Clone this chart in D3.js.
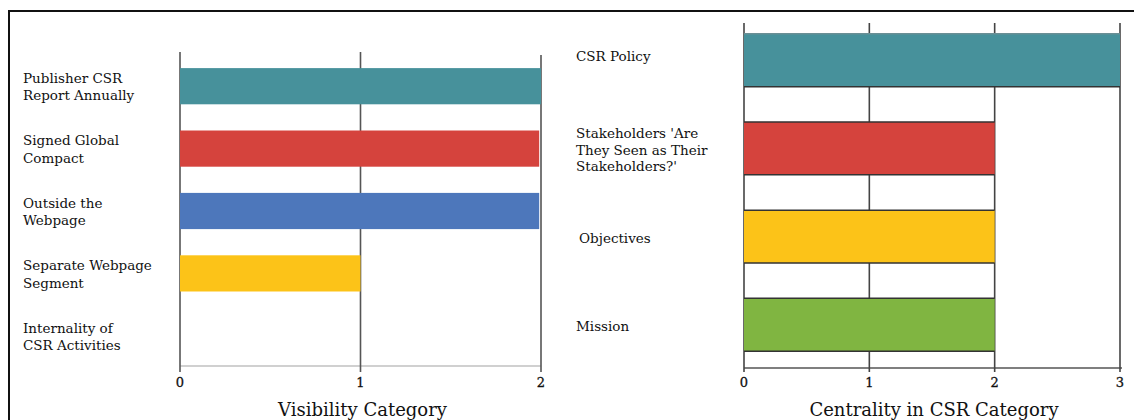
<!DOCTYPE html>
<html>
<head>
<meta charset="utf-8">
<script src="https://cdn.jsdelivr.net/npm/d3@7"></script>
<style>
  body { margin: 0; background: #fff; }
  text { font-family: "DejaVu Serif", "Liberation Serif", serif; fill: #111; }
</style>
</head>
<body>
<svg id="chart" width="1134" height="420"></svg>
<script>
// visibility (left panel)
const visCategories = ["Publisher CSR\nReport Annually", "Signed Global\nCompact", "Outside the\nWebpage", "Separate Webpage\nSegment", "Internality of\nCSR Activities"];
const visValues = [2, 1.99, 1.99, 1, 0];
const visColors = ["#47919b", "#d5433d", "#4d77bb", "#fcc318", "#80b541"];
const visTicks = [0, 1, 2];

// centrality (right panel)
const cenCategories = ["CSR Policy", "Stakeholders 'Are\nThey Seen as Their\nStakeholders?'", "Objectives", "Mission"];
const cenValues = [3, 2, 2, 2];
const cenColors = ["#47919b", "#d5433d", "#fcc318", "#80b541"];
const cenTicks = [0, 1, 2, 3];

const svg = d3.select("#chart");

// frame around the figure
svg.append("path")
  .attr("d", "M9,420 L9,11 L1134,11")
  .attr("fill", "none")
  .attr("stroke", "#111")
  .attr("stroke-width", 2);

//---- left panel ----
const xL = d3.scaleLinear().domain([0, 2]).range([180, 541]);
const yL = d3.scaleBand().domain(visCategories).range([55, 367]).paddingInner(0.42).paddingOuter(0.21);

const gL = svg.append("g");

gL.append("line")
  .attr("x1", xL(0)).attr("x2", xL(2))
  .attr("y1", 366).attr("y2", 366)
  .attr("stroke", "#d0d0d0").attr("stroke-width", 2);

// gridlines go under the bars
gL.selectAll(".grid")
  .data(visTicks)
  .join("line")
  .attr("x1", d => xL(d)).attr("x2", d => xL(d))
  .attr("y1", d => d == 2 ? 55 : 52).attr("y2", 372)
  .attr("stroke", "#555").attr("stroke-width", 1.6);

gL.selectAll(".bar")
  .data(visCategories)
  .join("rect")
  .attr("x", xL(0))
  .attr("y", d => yL(d))
  .attr("width", (d, i) => xL(visValues[i]) - xL(0))
  .attr("height", yL.bandwidth())
  .attr("fill", (d, i) => visColors[i]);

gL.selectAll(".tick")
  .data(visTicks)
  .join("text")
  .attr("x", d => xL(d)).attr("y", 387)
  .attr("text-anchor", "middle")
  .style("font-size", "13px")
  .style("stroke", "#111").style("stroke-width", 0.3)
  .text(d => d);

gL.append("text")
  .attr("x", (xL(0) + xL(2)) / 2 + 2).attr("y", 416)
  .attr("text-anchor", "middle")
  .style("font-size", "18px")
  .text("Visibility Category");

const labelsL = gL.selectAll(".lab")
  .data(visCategories)
  .join("text")
  .attr("x", 23)
  .style("font-size", "13.5px");
labelsL.each(function(d) {
  const lines = d.split("\n");
  const cy = yL(d) + yL.bandwidth() / 2 + 1;
  d3.select(this).selectAll("tspan")
    .data(lines)
    .join("tspan")
    .attr("x", 23)
    .attr("y", (l, j) => cy + (j - (lines.length - 1) / 2) * 17.5 + 4.5)
    .text(l => l);
});

//---- right panel ----
const xR = d3.scaleLinear().domain([0, 3]).range([744, 1120]);
const yR = d3.scaleBand().domain(cenCategories).range([17, 368]).paddingInner(0.4).paddingOuter(0.19);

const gR = svg.append("g");

gR.append("line")
  .attr("x1", xR(0)).attr("x2", xR(3) + 2)
  .attr("y1", 368).attr("y2", 368)
  .attr("stroke", "#555").attr("stroke-width", 1.6);

gR.selectAll(".grid")
  .data(cenTicks)
  .join("line")
  .attr("x1", d => xR(d)).attr("x2", d => xR(d))
  .attr("y1", 23).attr("y2", 372)
  .attr("stroke", "#444").attr("stroke-width", 1.6);

gR.selectAll(".bar")
  .data(cenCategories)
  .join("rect")
  .attr("x", xR(0))
  .attr("y", d => yR(d))
  .attr("width", (d, i) => xR(cenValues[i]) - xR(0))
  .attr("height", yR.bandwidth())
  .attr("fill", (d, i) => cenColors[i]);

// dark horizontal edges on the bars
cenCategories.forEach((c, i) => {
  [yR(c), yR(c) + yR.bandwidth()].forEach((yy, k) => {
    gR.append("line")
      .attr("x1", xR(0)).attr("x2", xR(cenValues[i]))
      .attr("y1", yy).attr("y2", yy)
      .attr("stroke", i == 0 && k == 0 ? "#6a8f95" : "#333")
      .attr("stroke-width", 1.5);
  });
});

gR.selectAll(".tick")
  .data(cenTicks)
  .join("text")
  .attr("x", d => xR(d)).attr("y", 387)
  .attr("text-anchor", "middle")
  .style("font-size", "13px")
  .style("stroke", "#111").style("stroke-width", 0.3)
  .text(d => d);

gR.append("text")
  .attr("x", (xR(0) + xR(3)) / 2 + 2).attr("y", 416)
  .attr("text-anchor", "middle")
  .style("font-size", "18px")
  .text("Centrality in CSR Category");

const labelsR = gR.selectAll(".lab")
  .data(cenCategories)
  .join("text")
  .attr("x", 576)
  .style("font-size", "13.5px");
labelsR.each(function(d, i) {
  const lines = d.split("\n");
  // first label sits a little above its bar centre, the others a little below
  const cy = yR(d) + yR.bandwidth() / 2 + (i == 0 ? -4 : 2);
  d3.select(this).selectAll("tspan")
    .data(lines)
    .join("tspan")
    .attr("x", d == "Objectives" ? 579 : 576)
    .attr("y", (l, j) => cy + (j - (lines.length - 1) / 2) * 16.5 + 4.5)
    .text(l => l);
});
</script>
</body>
</html>
